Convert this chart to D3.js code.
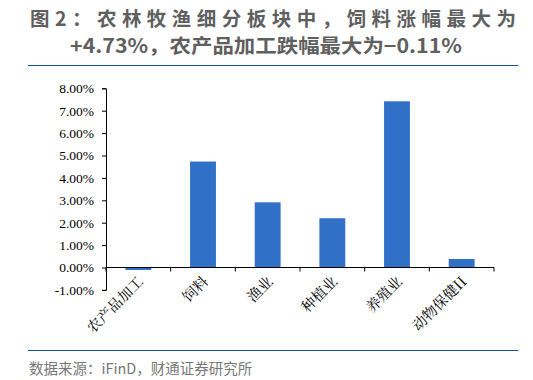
<!DOCTYPE html>
<html><head><meta charset="utf-8">
<script src="https://cdn.jsdelivr.net/npm/d3@7"></script>
<style>body{margin:0;background:#fff}</style>
</head><body><svg id="c" width="533" height="380"></svg>
<script>
const categories = ["农产品加工","饲料","渔业","种植业","养殖业","动物保健II"];
const values = [-0.11, 4.73, 2.91, 2.20, 7.42, 0.38];
const yTicks = [-1,0,1,2,3,4,5,6,7,8];
const titleLines = ["图2：农林牧渔细分板块中，饲料涨幅最大为","+4.73%，农产品加工跌幅最大为−0.11%"];
const sourceText = "数据来源：iFinD，财通证券研究所";

const svg = d3.select("#c");
const x = d3.scaleBand().domain(categories).range([106,494]).paddingInner(0.6).paddingOuter(0.3);
const y = d3.scaleLinear().domain([-1,8]).range([289.9,88.3]);

svg.append("text").attr("x",30).attr("y",25.5).attr("textLength",486).attr("lengthAdjust","spacing")
  .attr("font-family","Noto Sans CJK SC").attr("font-size",19.5).attr("font-weight","bold")
  .attr("fill","#5f5f5f").text(titleLines[0]);
svg.append("text").attr("x",70).attr("y",52.5).attr("textLength",392).attr("lengthAdjust","spacingAndGlyphs")
  .attr("font-family","Noto Sans CJK SC").attr("font-size",19.5).attr("font-weight","bold")
  .attr("fill","#5f5f5f").text(titleLines[1]);
svg.append("line").attr("x1",28).attr("x2",518).attr("y1",65.5).attr("y2",65.5).attr("stroke","#0d4f9e").attr("stroke-width",1.2);
svg.append("line").attr("x1",28).attr("x2",518).attr("y1",350.5).attr("y2",350.5).attr("stroke","#0d4f9e").attr("stroke-width",1.2);
svg.append("text").attr("x",29).attr("y",374).attr("font-family","Noto Sans CJK SC").attr("font-size",14.5)
  .attr("fill","#777").text(sourceText);

svg.selectAll("rect.bar").data(values).enter().append("rect").attr("class","bar")
  .attr("x",(d,i)=>x(categories[i])).attr("width",x.bandwidth())
  .attr("y",d=>y(Math.max(0,d))).attr("height",d=>Math.abs(y(d)-y(0)))
  .attr("fill","#3070c6");

const yAxis = svg.append("g").attr("transform","translate(106,0)")
  .call(d3.axisLeft(y).tickValues(yTicks).tickSize(4).tickFormat(d=>d.toFixed(2)+"%"));
yAxis.select(".domain").attr("stroke","#000");
yAxis.selectAll("text").attr("font-family","Liberation Serif").attr("font-size",13.5).attr("fill","#000").attr("dx",-5);

const step = (494-106)/categories.length;
const xg = svg.append("g");
xg.append("line").attr("x1",106).attr("x2",494).attr("y1",y(0)).attr("y2",y(0)).attr("stroke","#000");
xg.selectAll("line.t").data(d3.range(categories.length+1)).enter().append("line").attr("class","t")
  .attr("x1",i=>106+i*step).attr("x2",i=>106+i*step).attr("y1",y(0)).attr("y2",y(0)+4).attr("stroke","#000");
xg.selectAll("text").data(categories).enter().append("text")
  .attr("transform",d=>`translate(${x(d)+x.bandwidth()/2+6},${y(0)+15}) rotate(-45)`)
  .attr("text-anchor","end").attr("font-family","Noto Serif CJK SC, Noto Sans CJK SC").attr("font-size",14.5)
  .attr("fill","#000").text(d=>d);
</script></body></html>
